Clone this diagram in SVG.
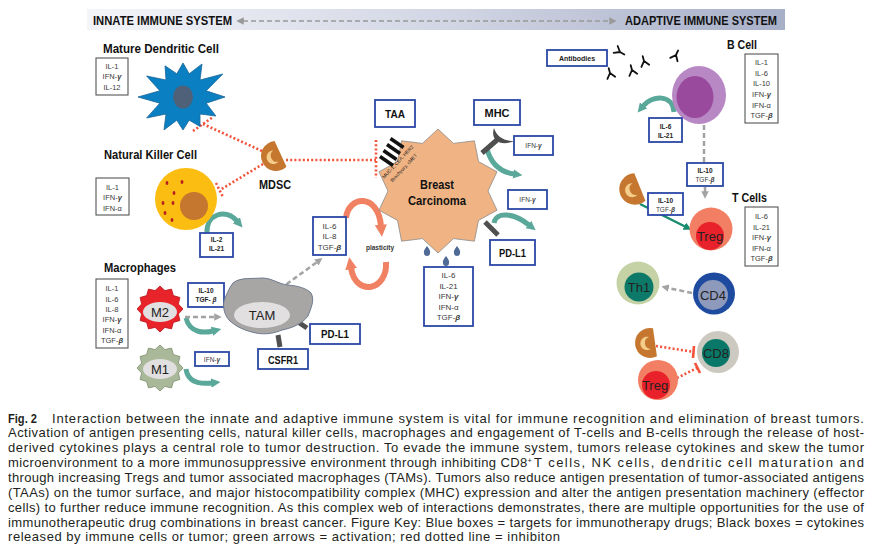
<svg xmlns="http://www.w3.org/2000/svg" width="877" height="553" viewBox="0 0 877 553">
<defs>
<linearGradient id="hdr" x1="0" y1="0" x2="1" y2="0">
<stop offset="0" stop-color="#f4f5f9"/><stop offset="0.5" stop-color="#d3d7e5"/><stop offset="1" stop-color="#a8b0c8"/>
</linearGradient>
<marker id="mTeal" viewBox="0 0 10 10" refX="1" refY="5" markerWidth="1.9" markerHeight="1.9" orient="auto"><path d="M0,0 L10,5 L0,10 Z" fill="#5aa89a"/></marker>
<marker id="mGray" viewBox="0 0 10 10" refX="1" refY="5" markerWidth="3" markerHeight="3" orient="auto"><path d="M0,0 L10,5 L0,10 Z" fill="#a3a3a3"/></marker>
<marker id="mGreen" viewBox="0 0 10 10" refX="1" refY="5" markerWidth="3.2" markerHeight="3.2" orient="auto"><path d="M0,0 L10,5 L0,10 Z" fill="#178c6f"/></marker>
<marker id="mOrange" viewBox="0 0 10 10" refX="1" refY="5" markerWidth="2" markerHeight="2" orient="auto"><path d="M0,0 L10,5 L0,10 Z" fill="#f08163"/></marker>
<marker id="mHdr" viewBox="0 0 10 10" refX="1" refY="5" markerWidth="5" markerHeight="5" orient="auto-start-reverse"><path d="M0,0 L10,5 L0,10 Z" fill="#999"/></marker>
<path id="mstar" d="M0,-23 L4.9,-18.4 L11.5,-19.9 L13.4,-13.4 L19.9,-11.5 L18.4,-4.9 L23,0 L18.4,4.9 L19.9,11.5 L13.4,13.4 L11.5,19.9 L4.9,18.4 L0,23 L-4.9,18.4 L-11.5,19.9 L-13.4,13.4 L-19.9,11.5 L-18.4,4.9 L-23,0 L-18.4,-4.9 L-19.9,-11.5 L-13.4,-13.4 L-11.5,-19.9 L-4.9,-18.4 Z"/>
<g id="mdsc">
<path d="M5,-14.14 A15,15 0 1 0 5,14.14 Z" fill="#c5762f"/>
<path d="M0,-6 A6.7,6.7 0 1 0 0,6 A6.08,6.08 0 0 1 0,-6 Z" fill="#f5cd8a"/>
</g>
<path id="ab" d="M0,-5 L0,0 M0,0 L-4,5 M0,0 L4,5" fill="none" stroke="#111" stroke-width="1.8" stroke-linecap="round"/>
<style>
text{font-family:"Liberation Sans",Arial,sans-serif}
.lbl{font-weight:bold;font-size:12.5px;fill:#111}
.ck{font-size:7.5px;fill:#3a3a3a;text-anchor:middle}
.ck8{font-size:8px;fill:#3a3a3a;text-anchor:middle}
.sb{font-size:6.5px;font-weight:bold;fill:#222;text-anchor:middle}
.sr{font-size:6.5px;fill:#3a3a3a;text-anchor:middle}
.bt{font-size:11px;font-weight:bold;fill:#111;text-anchor:middle}
.ct{font-size:13px;fill:#222;text-anchor:middle}
.bb{fill:#fff;stroke:#2a47a6;stroke-width:1.8}
.kb{fill:#fff;stroke:#555;stroke-width:1.1}
.cap{font-size:13px;fill:#231f20}
.inh{stroke:#f2533b;stroke-width:2.6;stroke-dasharray:2 2.2;fill:none}
.bar{stroke:#f2533b;stroke-width:2.6;fill:none}
.teal{stroke:#5aa89a;stroke-width:5;fill:none;marker-end:url(#mTeal)}
.gd{stroke:#a3a3a3;stroke-width:2.5;stroke-dasharray:5 3;fill:none;marker-end:url(#mGray)}
.orng{stroke:#f08163;stroke-width:6;fill:none;marker-end:url(#mOrange)}
.rec{stroke:#505050;stroke-width:5;fill:none}
.g{font-weight:bold;font-style:italic}
</style>
</defs>
<rect width="877" height="553" fill="#fff"/>

<g id="header">
<rect x="87" y="9" width="698" height="21" fill="url(#hdr)"/>
<text class="lbl" x="93" y="24.5" font-size="12" textLength="139" lengthAdjust="spacingAndGlyphs">INNATE IMMUNE SYSTEM</text>
<text class="lbl" x="625" y="24.5" font-size="12" textLength="152" lengthAdjust="spacingAndGlyphs">ADAPTIVE IMMUNE SYSTEM</text>
<line x1="243" y1="21" x2="610" y2="21" stroke="#999" stroke-width="1.5" stroke-dasharray="5 3" marker-start="url(#mHdr)" marker-end="url(#mHdr)"/>
</g>

<g id="connectors">
<line class="inh" x1="262" y1="151" x2="203" y2="124"/>
<line class="inh" x1="193" y1="131" x2="213" y2="117"/>
<line class="inh" x1="263" y1="164" x2="220" y2="190"/>
<line class="inh" x1="216" y1="183" x2="223" y2="197"/>
<line class="inh" x1="286" y1="160" x2="376" y2="160"/>
<line class="inh" x1="376" y1="140" x2="376" y2="178"/>
<line class="inh" x1="656" y1="346" x2="694" y2="352"/>
<line class="bar" x1="694" y1="346" x2="693" y2="358"/>
<line class="inh" x1="677" y1="378" x2="697" y2="368"/>
<line class="bar" x1="695" y1="363" x2="700" y2="373"/>
<path class="teal" d="M207,233 C206,214 226,208 237,221"/>
<path class="teal" d="M186,318 C190,334 205,333 213,331"/>
<path class="teal" d="M186,369 C188,384 203,384 212,383"/>
<path class="teal" d="M674,112 C673,94 652,95 643,106"/>
<path class="teal" d="M487,149 Q493,171 514,174"/>
<path class="teal" d="M494,223 C496,211 514,213 529,225"/>
<line x1="640" y1="204" x2="685" y2="226.5" stroke="#178c6f" stroke-width="2.5" marker-end="url(#mGreen)"/>
<path class="gd" d="M185,317 L215,317"/>
<path class="gd" d="M280,289 L317,262"/>
<path d="M704,125 L704,163" stroke="#a3a3a3" stroke-width="2.5" stroke-dasharray="5 3" fill="none"/>
<path class="gd" d="M705,187 L705,192" stroke-dasharray="none"/>
<path class="gd" d="M692,293 L668,288"/>
<path class="orng" d="M346,218 C348,196 378,192 381,226"/>
<path class="orng" d="M386,262 C388,290 356,298 351,268"/>
</g>

<g id="dendritic">
<text class="lbl" x="103" y="53" textLength="116" lengthAdjust="spacingAndGlyphs">Mature Dendritic Cell</text>
<rect class="kb" x="96" y="58" width="32" height="37"/>
<text class="ck" x="112" y="68.5">IL-1</text>
<text class="ck" x="112" y="79">IFN-<tspan class="g">γ</tspan></text>
<text class="ck" x="112" y="89.5">IL-12</text>
<path d="M183,63 L189.2,73.8 L202,64 L200,80 L222.8,74 L206.2,90.8 L225,97 L206.2,103.2 L215.9,116 L200,114 L200,126.4 L189.2,120.2 L183,130 L176.8,120.2 L164,129.9 L166,114 L146.6,118 L159.8,103.2 L138,97 L159.8,90.8 L146.6,76 L166,80 L165,65.8 L176.8,73.8 Z" fill="#0a80c2" stroke="#1b6598" stroke-width="0.8"/>
<ellipse cx="183" cy="97" rx="10" ry="11.5" fill="#4f6079"/>
</g>

<g id="mdsc1">
<use href="#mdsc" transform="translate(276,156) rotate(-25)"/>
<text class="lbl" x="259" y="189" textLength="32" lengthAdjust="spacingAndGlyphs">MDSC</text>
</g>

<g id="nk">
<text class="lbl" x="104" y="159" textLength="93" lengthAdjust="spacingAndGlyphs">Natural Killer Cell</text>
<rect class="kb" x="96" y="178" width="33" height="37"/>
<text class="ck" x="112.5" y="189.5">IL-1</text>
<text class="ck" x="112.5" y="200">IFN-<tspan class="g">γ</tspan></text>
<text class="ck" x="112.5" y="211">IFN-α</text>
<circle cx="186" cy="199" r="31" fill="#fbbd12"/>
<circle cx="194" cy="206" r="14" fill="#c5762f"/>
<g fill="#b81d24">
<ellipse cx="167" cy="183" rx="1.4" ry="2"/><ellipse cx="182" cy="182" rx="1.4" ry="2"/>
<ellipse cx="174" cy="193" rx="1.4" ry="2"/><ellipse cx="163" cy="203" rx="1.4" ry="2"/>
<ellipse cx="173" cy="203" rx="1.4" ry="2"/><ellipse cx="165" cy="213" rx="1.4" ry="2"/>
<ellipse cx="172" cy="220" rx="1.4" ry="2"/>
</g>
<rect class="bb" x="200" y="233" width="33" height="24"/>
<text class="sb" x="216.5" y="242">IL-2</text>
<text class="sb" x="216.5" y="251">IL-21</text>
</g>

<g id="macrophages">
<text class="lbl" x="104" y="272" textLength="72" lengthAdjust="spacingAndGlyphs">Macrophages</text>
<rect class="kb" x="96" y="279" width="32" height="69"/>
<text class="ck" x="112" y="291">IL-1</text>
<text class="ck" x="112" y="301.5">IL-6</text>
<text class="ck" x="112" y="311.5">IL-8</text>
<text class="ck" x="112" y="322">IFN-<tspan class="g">γ</tspan></text>
<text class="ck" x="112" y="332.5">IFN-α</text>
<text class="ck" x="112" y="343">TGF-<tspan class="g">β</tspan></text>
</g>

<g id="m2">
<use href="#mstar" transform="translate(160,309)" fill="#e8232a" stroke="#b5161c" stroke-width="0.8"/>
<ellipse cx="160" cy="312" rx="17" ry="10" fill="#e1dfdf"/>
<text class="ct" x="160" y="317">M2</text>
<rect class="bb" x="188" y="283" width="36" height="24"/>
<text class="sb" x="206" y="293">IL-10</text>
<text class="sb" x="206" y="302">TGF- <tspan class="g">β</tspan></text>
</g>

<g id="m1">
<use href="#mstar" transform="translate(160,368)" fill="#a9b898" stroke="#7e8f6e" stroke-width="0.8"/>
<ellipse cx="160" cy="369" rx="17" ry="10" fill="#e1dfdf"/>
<text class="ct" x="160" y="374">M1</text>
<rect class="bb" x="195" y="352" width="34" height="14"/>
<text class="sr" x="212" y="361.5">IFN-<tspan class="g">γ</tspan></text>
</g>

<g id="tam">
<line class="rec" x1="298" y1="322" x2="307" y2="328"/>
<line class="rec" x1="278" y1="335" x2="280" y2="347"/>
<path d="M233,283 C240,277 252,279 262,278 C272,278 278,284 288,285 C298,286 306,288 311,293 C315,300 311,308 308,316 C302,324 292,328 282,330 C275,333 266,335 256,333 C246,331 236,327 229,320 C223,313 222,303 226,296 C228,291 230,287 233,283 Z" fill="#a8a6a5" stroke="#6e7a8f" stroke-width="1"/>
<ellipse cx="262" cy="315" rx="28" ry="13" fill="#e1dfdf"/>
<text class="ct" x="262" y="320">TAM</text>
<rect class="bb" x="310" y="324" width="50" height="20"/>
<text class="bt" x="335" y="338" textLength="28" lengthAdjust="spacingAndGlyphs">PD-L1</text>
<rect class="bb" x="258" y="349" width="50" height="20"/>
<text class="bt" x="283" y="363.5" textLength="30" lengthAdjust="spacingAndGlyphs">CSFR1</text>
</g>

<g id="tam-cytokines">
<rect class="bb" x="313" y="217" width="33" height="38"/>
<text class="ck8" x="329.5" y="228.5">IL-6</text>
<text class="ck8" x="329.5" y="239">IL-8</text>
<text class="ck8" x="329.5" y="249.5">TGF-<tspan class="g">β</tspan></text>
<text x="380" y="250" font-size="6.5" font-weight="bold" fill="#333" text-anchor="middle">plasticity</text>
</g>

<g id="tumor">
<line class="rec" x1="482" y1="153" x2="497" y2="140" stroke="#4d4d4d" stroke-width="4.5"/>
<path d="M494,128 C490,140 500,147 514,141 C504,141 497,137 494,128 Z" fill="#4d4d4d"/>
<line class="rec" x1="485" y1="222" x2="498" y2="235"/>
<path d="M438,129 L453.5,143.4 L474.4,140.8 L478.5,161.6 L497,171.8 L488,191 L497,210.2 L478.5,220.4 L474.4,241.2 L453.5,238.6 L438,253 L422.5,238.6 L401.6,241.2 L397.5,220.4 L379,210.2 L388,191 L379,171.8 L397.5,161.6 L401.6,140.8 L422.5,143.4 Z" fill="#f0b383" stroke="#8c8c8c" stroke-width="0.8"/>
<g fill="#111">
<rect x="-8" y="-1.8" width="16" height="3.6" transform="translate(397,143) rotate(35)"/>
<rect x="-8" y="-1.8" width="16" height="3.6" transform="translate(393.5,149) rotate(35)"/>
<rect x="-8" y="-1.8" width="16" height="3.6" transform="translate(390,155) rotate(35)"/>
<rect x="-8" y="-1.8" width="16" height="3.6" transform="translate(386.5,161) rotate(35)"/>
</g>
<text x="399" y="163" font-size="4.8" fill="#222" text-anchor="middle" transform="rotate(-47 399 163)">MUC-1, CEA, HER2</text>
<text x="405" y="169" font-size="4.8" fill="#222" text-anchor="middle" transform="rotate(-47 405 169)">Brachyury, cMET</text>
<text x="437" y="189" font-size="12.5" font-weight="bold" fill="#111" text-anchor="middle" textLength="34" lengthAdjust="spacingAndGlyphs">Breast</text>
<text x="437" y="205" font-size="12.5" font-weight="bold" fill="#111" text-anchor="middle" textLength="58" lengthAdjust="spacingAndGlyphs">Carcinoma</text>
<g fill="#4f6a94">
<path d="M427,246 Q431,251 430,253 A3,3 0 0 1 424,253 Q423,251 427,246 Z"/>
<path d="M457,246 Q461,251 460,253 A3,3 0 0 1 454,253 Q453,251 457,246 Z"/>
<path d="M446,256 Q450,261 449,263 A3,3 0 0 1 443,263 Q442,261 446,256 Z"/>
</g>
<rect class="bb" x="424" y="267" width="49" height="59"/>
<text class="ck8" x="448.5" y="278">IL-6</text>
<text class="ck8" x="448.5" y="288.7">IL-21</text>
<text class="ck8" x="448.5" y="299">IFN-<tspan class="g">γ</tspan></text>
<text class="ck8" x="448.5" y="309.7">IFN-α</text>
<text class="ck8" x="448.5" y="320">TGF-<tspan class="g">β</tspan></text>
</g>

<g id="taa">
<rect class="bb" x="375" y="100" width="40" height="27"/>
<text class="bt" x="395" y="117.5" textLength="20" lengthAdjust="spacingAndGlyphs">TAA</text>
</g>

<g id="mhc">
<rect class="bb" x="474" y="100" width="46" height="25"/>
<text class="bt" x="497" y="116.5" textLength="25" lengthAdjust="spacingAndGlyphs">MHC</text>
<rect class="bb" x="514" y="136" width="39" height="19"/>
<text class="sr" x="533.5" y="148">IFN-<tspan class="g">γ</tspan></text>
</g>

<g id="pdl1">
<rect class="bb" x="508" y="190" width="39" height="19"/>
<text class="sr" x="527.5" y="202">IFN-<tspan class="g">γ</tspan></text>
<rect class="bb" x="490" y="240" width="45" height="25"/>
<text class="bt" x="512.5" y="256.5" textLength="27" lengthAdjust="spacingAndGlyphs">PD-L1</text>
</g>

<g id="antibodies">
<rect class="bb" x="547" y="50" width="60" height="16"/>
<text x="577" y="61" font-size="7" font-weight="bold" fill="#222" text-anchor="middle">Antibodies</text>
<use href="#ab" transform="translate(620,52) rotate(120)"/>
<use href="#ab" transform="translate(610,73) rotate(-15)"/>
<use href="#ab" transform="translate(632,70) rotate(-15)"/>
<use href="#ab" transform="translate(644,61) rotate(-15)"/>
<use href="#ab" transform="translate(676,55) rotate(25)"/>
</g>

<g id="bcell">
<text class="lbl" x="727" y="49" textLength="30" lengthAdjust="spacingAndGlyphs">B Cell</text>
<rect class="kb" x="745" y="54" width="33" height="69"/>
<text class="ck" x="761.5" y="65">IL-1</text>
<text class="ck" x="761.5" y="75.5">IL-6</text>
<text class="ck" x="761.5" y="86">IL-10</text>
<text class="ck" x="761.5" y="97">IFN-<tspan class="g">γ</tspan></text>
<text class="ck" x="761.5" y="107.5">IFN-α</text>
<text class="ck" x="761.5" y="118">TGF-<tspan class="g">β</tspan></text>
<ellipse cx="699" cy="95" rx="27" ry="29" fill="#b888c4"/>
<ellipse cx="695" cy="97" rx="18.5" ry="21" fill="#9a4a9c"/>
<rect class="bb" x="649" y="118" width="33" height="24"/>
<text class="sb" x="665.5" y="128.5">IL-6</text>
<text class="sb" x="665.5" y="137.5">IL-21</text>
<rect class="bb" x="687" y="163" width="36" height="23"/>
<text class="sb" x="705" y="173">IL-10</text>
<text class="sr" x="705" y="181.5">TGF-<tspan class="g">β</tspan></text>
</g>

<g id="tcells">
<text class="lbl" x="732" y="202" textLength="35" lengthAdjust="spacingAndGlyphs">T Cells</text>
<rect class="kb" x="745" y="207" width="33" height="59"/>
<text class="ck" x="761.5" y="219">IL-6</text>
<text class="ck" x="761.5" y="229.5">IL-21</text>
<text class="ck" x="761.5" y="240">IFN-<tspan class="g">γ</tspan></text>
<text class="ck" x="761.5" y="250.5">IFN-α</text>
<text class="ck" x="761.5" y="261">TGF-<tspan class="g">β</tspan></text>
</g>

<g id="mdsc2">
<use href="#mdsc" transform="translate(635,189) rotate(-22) scale(1.05)"/>
<rect class="bb" x="648" y="193" width="35" height="22"/>
<text class="sb" x="665.5" y="203">IL-10</text>
<text class="sr" x="665.5" y="211.5">TGF-<tspan class="g">β</tspan></text>
</g>

<g id="treg1">
<circle cx="711" cy="229" r="21.5" fill="#f27f63"/>
<circle cx="710" cy="236" r="14" fill="#e8212a"/>
<text class="ct" x="710" y="241" fill="#2a1515">Treg</text>
</g>

<g id="th1">
<circle cx="638" cy="283" r="21.5" fill="#c5d2a6"/>
<circle cx="639" cy="287" r="14.5" fill="#0d7a69"/>
<text class="ct" x="639" y="292" fill="#1a1a1a">Th1</text>
</g>

<g id="cd4">
<circle cx="714" cy="293.5" r="21" fill="#1e4aa0"/>
<circle cx="713" cy="295" r="15" fill="#8e9abb"/>
<text class="ct" x="713" y="299.5" font-size="12.5" fill="#1a1a1a">CD4</text>
</g>

<g id="mdsc3">
<use href="#mdsc" transform="translate(650,343) rotate(-8)"/>
</g>

<g id="cd8">
<circle cx="718" cy="352" r="21" fill="#cccac0"/>
<circle cx="716" cy="353" r="14" fill="#0a7868"/>
<text class="ct" x="716" y="357.5" font-size="12.5" fill="#1a1a1a">CD8</text>
</g>

<g id="treg2">
<circle cx="658" cy="380" r="20" fill="#f27f63"/>
<circle cx="656" cy="385" r="14" fill="#e8212a"/>
<text class="ct" x="655" y="390" fill="#2a1515">Treg</text>
</g>

<g id="caption">
<text class="cap" x="8" y="422.5" font-weight="bold" textLength="29" lengthAdjust="spacingAndGlyphs">Fig. 2</text>
<text class="cap" x="52" y="422.5" textLength="812" lengthAdjust="spacing">Interaction between the innate and adaptive immune system is vital for immune recognition and elimination of breast tumors.</text>
<text class="cap" x="8" y="437.4" textLength="856" lengthAdjust="spacing">Activation of antigen presenting cells, natural killer cells, macrophages and engagement of T-cells and B-cells through the release of host-</text>
<text class="cap" x="8" y="452.2" textLength="856" lengthAdjust="spacing">derived cytokines plays a central role to tumor destruction. To evade the immune system, tumors release cytokines and skew the tumor</text>
<text class="cap" x="8" y="467.1" textLength="524" lengthAdjust="spacing">microenvironment to a more immunosuppressive environment through inhibiting CD8<tspan font-size="7.5" dy="-4.5">+</tspan></text>
<text class="cap" x="534" y="467.1" textLength="330" lengthAdjust="spacing">T cells, NK cells, dendritic cell maturation and</text>
<text class="cap" x="8" y="481.9" textLength="856" lengthAdjust="spacing">through increasing Tregs and tumor associated macrophages (TAMs). Tumors also reduce antigen presentation of tumor-associated antigens</text>
<text class="cap" x="8" y="496.8" textLength="856" lengthAdjust="spacing">(TAAs) on the tumor surface, and major histocompatibility complex (MHC) expression and alter the antigen presentation machinery (effector</text>
<text class="cap" x="8" y="511.6" textLength="856" lengthAdjust="spacing">cells) to further reduce immune recognition. As this complex web of interactions demonstrates, there are multiple opportunities for the use of</text>
<text class="cap" x="8" y="526.5" textLength="856" lengthAdjust="spacing">immunotherapeutic drug combinations in breast cancer. Figure Key: Blue boxes = targets for immunotherapy drugs; Black boxes = cytokines</text>
<text class="cap" x="8" y="541.3" textLength="552" lengthAdjust="spacing">released by immune cells or tumor; green arrows = activation; red dotted line = inhibiton</text>
</g>
</svg>
